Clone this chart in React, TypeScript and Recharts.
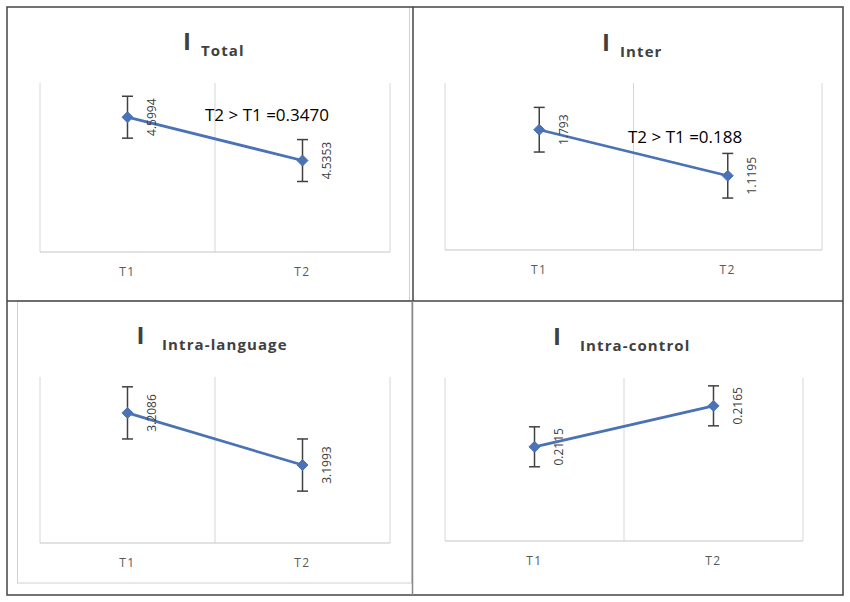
import { CartesianGrid, ErrorBar, Line, LineChart, XAxis, YAxis } from 'recharts';

// time points shared by all four panels
const CATEGORIES = ['T1', 'T2'];

const TOTAL_VALUES = [4.5994, 4.5353];
const TOTAL_ERRORS = [0.031, 0.031];
const TOTAL_LABELS = ['4.5994', '4.5353'];

const INTER_VALUES = [1.1793, 1.1195];
const INTER_ERRORS = [0.029, 0.029];
const INTER_LABELS = ['1.793', '1.1195'];

const LANG_VALUES = [3.2086, 3.1993];
const LANG_ERRORS = [0.00465, 0.00465];
const LANG_LABELS = ['3.2086', '3.1993'];

const CONTROL_VALUES = [0.2115, 0.2165];
const CONTROL_ERRORS = [0.00244, 0.00244];
const CONTROL_LABELS = ['0.2115', '0.2165'];

const BLUE = '#4a72b4';
const TEXT_DARK = '#404040';
const FONT = '"Open Sans", sans-serif';

interface PanelProps {
  left: number;
  top: number;
  width: number;
  height: number;
  margin: { top: number; right: number; bottom: number; left: number };
  values: number[];
  errors: number[];
  labels: string[];
  domain: [number, number];
}

function buildRows(values: number[], errors: number[]) {
  return CATEGORIES.map((cat, i) => ({
    x: i + 0.5,
    cat,
    value: values[i],
    err: errors[i],
  }));
}

// category boundaries: left edge, between T1/T2, right edge
const GRID_VALUES = [...CATEGORIES.map((_, i) => i), CATEGORIES.length];

function makeDot(labels: string[]) {
  return (props: any) => {
    const { cx, cy, index } = props;
    if (cx == null || cy == null) return <g key={`d-${index}`} />;
    const r = 5.5;
    const lx = cx + 24;
    return (
      <g key={`d-${index}`}>
        <path
          d={`M${cx},${cy - r} L${cx + r},${cy} L${cx},${cy + r} L${cx - r},${cy} Z`}
          fill={BLUE}
          stroke={BLUE}
        />
        <text
          x={lx}
          y={cy}
          transform={`rotate(-90 ${lx} ${cy})`}
          textAnchor="middle"
          dominantBaseline="central"
          fontFamily={FONT}
          fontSize={12}
          fill={TEXT_DARK}
        >
          {labels[index]}
        </text>
      </g>
    );
  };
}

function Panel({ left, top, width, height, margin, values, errors, labels, domain }: PanelProps) {
  const rows = buildRows(values, errors);
  return (
    <div style={{ position: 'absolute', left, top, width, height }}>
      <LineChart width={width} height={height} data={rows} margin={margin}>
        <CartesianGrid horizontal={false} verticalValues={GRID_VALUES} stroke="#d6d6d6" />
        <XAxis
          dataKey="x"
          type="number"
          domain={[0, CATEGORIES.length]}
          ticks={CATEGORIES.map((_, i) => i + 0.5)}
          tickFormatter={(v: number) => CATEGORIES[Math.floor(v)]}
          height={20}
          tickLine={false}
          tickMargin={9}
          axisLine={{ stroke: '#c4c4c4' }}
          tick={{ fontFamily: FONT, fontSize: 12, fill: '#595959', letterSpacing: 1.5 }}
        />
        <YAxis hide type="number" domain={domain} allowDataOverflow />
        <Line
          dataKey="value"
          stroke={BLUE}
          strokeWidth={2.75}
          dot={makeDot(labels)}
          activeDot={false}
          isAnimationActive={false}
        >
          <ErrorBar
            dataKey="err"
            direction="y"
            width={5.5}
            strokeWidth={1.5}
            stroke="#404040"
            isAnimationActive={false}
          />
        </Line>
      </LineChart>
    </div>
  );
}

function Title({ x, y, text, ix }: { x: number; y: number; text: string; ix: number }) {
  return (
    <g fontFamily={FONT} fill={TEXT_DARK} fontWeight={700}>
      <text x={ix} y={y - 6} fontSize={24} textAnchor="middle">
        I
      </text>
      <text x={x} y={y} fontSize={15} letterSpacing={1.1}>
        {text}
      </text>
    </g>
  );
}

export default function App() {
  return (
    <div
      style={{
        position: 'absolute',
        left: 0,
        top: 0,
        width: 850,
        height: 602,
        background: '#fff',
        overflow: 'hidden',
      }}
    >
      <Panel
        left={0}
        top={0}
        width={413}
        height={300}
        margin={{ top: 83, right: 23, bottom: 28, left: 40 }}
        values={TOTAL_VALUES}
        errors={TOTAL_ERRORS}
        labels={TOTAL_LABELS}
        domain={[4.4, 4.65]}
      />
      <Panel
        left={413}
        top={0}
        width={430}
        height={300}
        margin={{ top: 83, right: 21, bottom: 30, left: 32 }}
        values={INTER_VALUES}
        errors={INTER_ERRORS}
        labels={INTER_LABELS}
        domain={[1.023, 1.24]}
      />
      <Panel
        left={0}
        top={301}
        width={413}
        height={294}
        margin={{ top: 76, right: 23, bottom: 32, left: 40 }}
        values={LANG_VALUES}
        errors={LANG_ERRORS}
        labels={LANG_LABELS}
        domain={[3.1854, 3.215]}
      />
      <Panel
        left={413}
        top={301}
        width={430}
        height={294}
        margin={{ top: 77, right: 40, bottom: 34, left: 32 }}
        values={CONTROL_VALUES}
        errors={CONTROL_ERRORS}
        labels={CONTROL_LABELS}
        domain={[0.2, 0.2199]}
      />
      <svg
        width={850}
        height={602}
        style={{ position: 'absolute', left: 0, top: 0, pointerEvents: 'none' }}
      >
        {/* light inner chart borders */}
        <line x1={409.5} y1={7} x2={409.5} y2={301} stroke="#d0d0d0" />
        <rect x={17.5} y={301} width={394} height={282} fill="none" stroke="#d0d0d0" />
        {/* outer frame */}
        <rect x={7} y={7} width={836} height={588} fill="none" stroke="#444" strokeWidth={1.5} />
        <line x1={7} y1={301} x2={843} y2={301} stroke="#444" strokeWidth={1.5} />
        <line x1={413} y1={7} x2={413} y2={301} stroke="#444" strokeWidth={1.5} />
        <line x1={412.5} y1={301} x2={412.5} y2={595} stroke="#888" strokeWidth={1.5} />

        <Title ix={187} x={201} y={56} text="Total" />
        <Title ix={606} x={620} y={57} text="Inter" />
        <Title ix={140.5} x={162} y={350} text="Intra-language" />
        <Title ix={557} x={580} y={351} text="Intra-control" />

        <text x={205} y={121} fontFamily={FONT} fontSize={17} fill="#000">
          T2 &gt; T1 =0.3470
        </text>
        <text x={628} y={143} fontFamily={FONT} fontSize={17} fill="#000">
          T2 &gt; T1 =0.188
        </text>
      </svg>
    </div>
  );
}
